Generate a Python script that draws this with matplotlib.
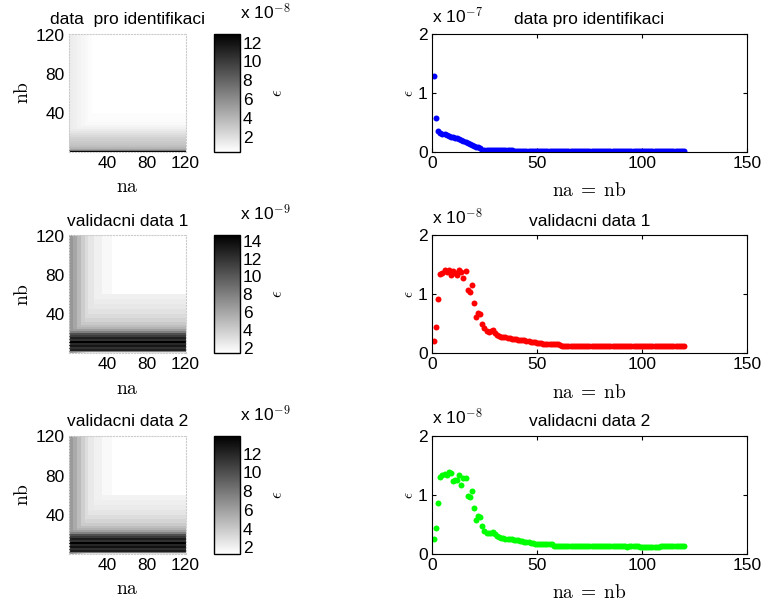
import numpy as np
import matplotlib
matplotlib.use("Agg")
import matplotlib.pyplot as plt

plt.rcParams["font.family"] = ["Liberation Sans", "DejaVu Sans"]
plt.rcParams["mathtext.fontset"] = "cm"
plt.rcParams["font.size"] = 12

# model orders 1..120
na = np.arange(1, 121)

# eps on the diagonal na = nb
eps_ident = [  # x 1e-7
    1.29, 0.57, 0.35, 0.32, 0.31, 0.30, 0.29, 0.27, 0.26, 0.25,
    0.24, 0.23, 0.22, 0.20, 0.19, 0.17, 0.15, 0.13, 0.12, 0.10,
    0.09, 0.08, 0.06, 0.04, 0.04, 0.04, 0.04, 0.04, 0.04, 0.04,
    0.04, 0.04, 0.04, 0.04, 0.04, 0.04, 0.04, 0.04, 0.02, 0.02,
    0.02, 0.02, 0.02, 0.02, 0.02, 0.02, 0.02, 0.02, 0.02, 0.02,
    0.02, 0.02, 0.02, 0.02, 0.02, 0.02, 0.02, 0.02, 0.02, 0.02,
    0.02, 0.02, 0.02, 0.02, 0.02, 0.02, 0.02, 0.02, 0.02, 0.02,
    0.02, 0.02, 0.02, 0.02, 0.02, 0.02, 0.02, 0.02, 0.02, 0.02,
    0.02, 0.02, 0.02, 0.02, 0.02, 0.02, 0.02, 0.02, 0.02, 0.02,
    0.02, 0.02, 0.02, 0.02, 0.02, 0.02, 0.02, 0.02, 0.02, 0.02,
    0.02, 0.02, 0.02, 0.02, 0.02, 0.02, 0.02, 0.02, 0.02, 0.02,
    0.02, 0.02, 0.02, 0.02, 0.02, 0.02, 0.02, 0.02, 0.02, 0.02,
]
eps_val1 = [  # x 1e-8
    0.21, 0.44, 0.92, 1.35, 1.36, 1.42, 1.38, 1.42, 1.33, 1.40,
    1.36, 1.33, 1.42, 1.38, 1.28, 1.40, 1.07, 1.04, 1.16, 0.85,
    0.61, 0.68, 0.66, 0.49, 0.42, 0.38, 0.36, 0.37, 0.40, 0.34,
    0.31, 0.29, 0.28, 0.27, 0.27, 0.26, 0.26, 0.25, 0.24, 0.24,
    0.23, 0.23, 0.23, 0.22, 0.21, 0.20, 0.19, 0.19, 0.19, 0.18,
    0.18, 0.17, 0.16, 0.16, 0.16, 0.16, 0.16, 0.15, 0.15, 0.15,
    0.14, 0.13, 0.13, 0.13, 0.13, 0.13, 0.13, 0.13, 0.13, 0.13,
    0.13, 0.13, 0.13, 0.13, 0.13, 0.13, 0.13, 0.13, 0.13, 0.13,
    0.13, 0.13, 0.13, 0.13, 0.13, 0.13, 0.13, 0.13, 0.13, 0.13,
    0.13, 0.13, 0.13, 0.13, 0.13, 0.13, 0.13, 0.13, 0.13, 0.13,
    0.13, 0.13, 0.13, 0.13, 0.13, 0.13, 0.13, 0.13, 0.13, 0.13,
    0.13, 0.13, 0.13, 0.13, 0.13, 0.13, 0.13, 0.13, 0.13, 0.13,
]
eps_val2 = [  # x 1e-8
    0.25, 0.44, 0.87, 1.31, 1.33, 1.36, 1.34, 1.39, 1.38, 1.24,
    1.25, 1.25, 1.33, 1.17, 1.29, 1.28, 0.99, 0.97, 1.07, 0.78,
    0.58, 0.64, 0.62, 0.47, 0.39, 0.35, 0.35, 0.36, 0.37, 0.34,
    0.30, 0.28, 0.27, 0.27, 0.26, 0.26, 0.25, 0.25, 0.24, 0.24,
    0.23, 0.22, 0.22, 0.21, 0.21, 0.20, 0.19, 0.18, 0.17, 0.17,
    0.17, 0.17, 0.17, 0.17, 0.17, 0.17, 0.17, 0.14, 0.14, 0.14,
    0.14, 0.14, 0.14, 0.14, 0.14, 0.14, 0.14, 0.14, 0.14, 0.14,
    0.14, 0.14, 0.14, 0.14, 0.14, 0.14, 0.14, 0.14, 0.14, 0.14,
    0.14, 0.14, 0.14, 0.14, 0.14, 0.14, 0.14, 0.14, 0.14, 0.14,
    0.14, 0.14, 0.11, 0.14, 0.14, 0.14, 0.14, 0.14, 0.12, 0.12,
    0.12, 0.12, 0.12, 0.12, 0.12, 0.12, 0.12, 0.12, 0.14, 0.14,
    0.14, 0.14, 0.14, 0.14, 0.14, 0.14, 0.14, 0.14, 0.14, 0.14,
]

# eps(na, nb) maps: levels of blocks of nb (rows) and of na (columns)
ident_nb_levels = [12.9, 7.0, 5.0, 4.0, 3.5, 3.2, 3.0, 2.8, 2.6, 2.3, 2.0,
                   1.7, 1.4, 1.1, 0.9, 0.7, 0.55, 0.4]  # x 1e-8
ident_nb_sizes = [1, 1, 1, 2, 2, 2, 2, 2, 2, 2, 2, 2, 2, 2, 2, 4, 9, 80]
ident_na_levels = [1.3, 1.2, 1.0, 0.85, 0.7, 0.55, 0.3]
ident_na_sizes = [4, 4, 4, 4, 4, 4, 96]

val1_nb_levels = [3.0, 8.0, 13.0, 12.0, 13.5, 12.5, 14.6, 12.0, 13.0, 11.5,
                  10.5, 8.0, 6.5, 5.3, 4.8, 4.2, 3.7, 3.3, 2.9, 2.6, 2.4,
                  2.2, 1.4]  # x 1e-9
val1_nb_sizes = [1, 1, 2, 2, 2, 2, 2, 2, 2, 2, 2, 2, 2, 2, 2, 4, 4, 4, 5,
                 5, 5, 5, 60]
val1_na_levels = [6.8, 6.0, 5.0, 4.0, 3.3, 2.7, 2.2, 1.8, 1.3]
val1_na_sizes = [4, 4, 4, 4, 4, 6, 8, 10, 76]

val2_nb_levels = [3.0, 8.0, 12.5, 11.5, 13.0, 12.0, 13.9, 11.5, 12.5, 11.0,
                  10.0, 7.5, 6.0, 5.0, 4.5, 3.9, 3.4, 3.0, 2.6, 2.3, 2.1,
                  1.9, 1.3]  # x 1e-9
val2_nb_sizes = [1, 1, 2, 2, 2, 2, 2, 2, 2, 2, 2, 2, 2, 2, 2, 4, 4, 4, 5,
                 5, 5, 5, 60]
val2_na_levels = [6.3, 5.5, 4.6, 3.7, 3.0, 2.4, 2.0, 1.6, 1.1]
val2_na_sizes = [4, 4, 4, 4, 4, 6, 8, 10, 76]

titles_left = ["data  pro identifikaci", "validacni data 1", "validacni data 2"]
titles_right = ["data pro identifikaci", "validacni data 1", "validacni data 2"]
cbar_exp = ["-8", "-9", "-9"]
plot_exp = ["-7", "-8", "-8"]
cbar_ticks = [[2, 4, 6, 8, 10, 12], [2, 4, 6, 8, 10, 12, 14], [2, 4, 6, 8, 10, 12]]
colors = ["#0000ff", "#ff0000", "#00ff00"]

maps = [
    (ident_nb_levels, ident_nb_sizes, ident_na_levels, ident_na_sizes),
    (val1_nb_levels, val1_nb_sizes, val1_na_levels, val1_na_sizes),
    (val2_nb_levels, val2_nb_sizes, val2_na_levels, val2_na_sizes),
]
series = [eps_ident, eps_val1, eps_val2]

fig = plt.figure(figsize=(7.64, 6.08), dpi=100)

bottoms = [0.750, 0.419, 0.089]
h = 0.194

for i in range(3):
    nb_lev, nb_sz, na_lev, na_sz = maps[i]
    rows = np.repeat(nb_lev, nb_sz)
    cols = np.repeat(na_lev, na_sz)
    Z = np.maximum.outer(rows, cols)

    # left: heat map
    ax = fig.add_axes([0.0903, bottoms[i], 0.1531, h])
    im = ax.imshow(Z, origin="lower", extent=[0.5, 120.5, 0.5, 120.5],
                   cmap="gray_r", aspect="auto", interpolation="nearest")
    ax.set_xticks([40, 80, 120])
    ax.set_yticks([40, 80, 120])
    ax.tick_params(length=0, labelsize=12.5, pad=3)
    for s in ax.spines.values():
        s.set_color("#cccccc")
        s.set_linestyle(":")
        s.set_linewidth(0.8)
    ax.set_xlabel(r"$\mathrm{na}$", fontsize=14, labelpad=6)
    ax.set_ylabel(r"$\mathrm{nb}$", fontsize=14, labelpad=3)
    ax.set_title(titles_left[i], fontsize=12.5, pad=7)

    cax = fig.add_axes([0.280, bottoms[i], 0.034, h])
    cb = fig.colorbar(im, cax=cax, ticks=cbar_ticks[i])
    cb.outline.set_linewidth(1.0)
    cax.tick_params(length=0, labelsize=12.5, pad=2)
    cb.set_label(r"$\epsilon$", fontsize=12, labelpad=6)
    cax.text(1.0, 1.10, r"x 10$^{\mathsf{" + cbar_exp[i] + "}}$",
             transform=cax.transAxes, ha="left", va="bottom", fontsize=12.5)

    # right: diagonal na = nb
    ax2 = fig.add_axes([0.5654, bottoms[i], 0.4123, h])
    ax2.plot(na, series[i], "o", color=colors[i], markersize=4.3,
             markeredgewidth=0)
    ax2.set_xlim(0, 150)
    ax2.set_ylim(0, 2)
    ax2.set_xticks([0, 50, 100, 150])
    ax2.set_yticks([0, 1, 2])
    ax2.tick_params(direction="in", top=True, right=True, length=3,
                    labelsize=12.5, pad=3)
    for s in ax2.spines.values():
        s.set_linewidth(0.8)
    ax2.set_xlabel(r"$\mathrm{na}\;=\;\mathrm{nb}$", fontsize=14, labelpad=8)
    ax2.set_ylabel(r"$\epsilon$", fontsize=11, labelpad=1)
    ax2.set_title(titles_right[i], fontsize=12.5, pad=7)
    ax2.text(0.0, 1.07, r"x 10$^{\mathsf{" + plot_exp[i] + "}}$",
             transform=ax2.transAxes, ha="left", va="bottom", fontsize=12.5)

fig.savefig("out.png", dpi=100)
